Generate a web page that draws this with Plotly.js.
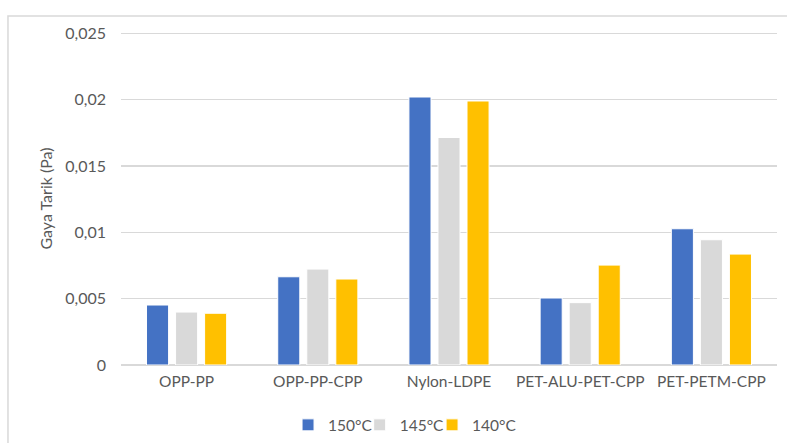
<!DOCTYPE html>
<html>
<head>
<meta charset="utf-8">
<script src="https://cdn.plot.ly/plotly-3.0.1.min.js"></script>
<style>
html,body{margin:0;padding:0;background:#fff;}
#chart{width:787px;height:443px;}
</style>
</head>
<body>
<div id="chart"></div>
<script>
const categories = ["OPP-PP", "OPP-PP-CPP", "Nylon-LDPE", "PET-ALU-PET-CPP", "PET-PETM-CPP"];
const seriesNames = ["150\u00B0C", "145\u00B0C", "140\u00B0C"];
const values150 = [0.00452, 0.00665, 0.0202, 0.00505, 0.01027];
const values145 = [0.00399, 0.00723, 0.01715, 0.0047, 0.00944];
const values140 = [0.0039, 0.00648, 0.0199, 0.00753, 0.00836];
const colors = ["#4472C4", "#D9D9D9", "#FFC000"];
const yTickVals = [0, 0.005, 0.01, 0.015, 0.02, 0.025];
const yTickText = ["0", "0,005", "0,01", "0,015", "0,02", "0,025"];

const allValues = [values150, values145, values140];
const legendIds = ["legend", "legend2", "legend3"];
const traces = allValues.map((v, i) => ({
  type: "bar",
  name: seriesNames[i],
  x: categories,
  y: v,
  legend: legendIds[i],
  marker: {color: colors[i], line: {color: "#ffffff", width: 1}},
  hoverinfo: "x+y"
}));

const font = "Lato, Open Sans, sans-serif";
const legendBase = {
  orientation: "h",
  xref: "container",
  yref: "container",
  xanchor: "left",
  y: 0.04,
  yanchor: "middle",
  font: {size: 15.5, color: "#595959"},
  itemwidth: 30,
  bgcolor: "rgba(0,0,0,0)"
};
const legendLefts = [0.366, 0.457, 0.549];

const layout = {
  width: 787,
  height: 443,
  margin: {l: 121, r: 10, t: 31.7, b: 78, autoexpand: false},
  paper_bgcolor: "#ffffff",
  plot_bgcolor: "#ffffff",
  separators: ",.",
  barmode: "group",
  bargap: 0.336,
  bargroupgap: 0.24,
  font: {family: font, color: "#595959", size: 16},
  xaxis: {
    type: "category",
    showgrid: false,
    showline: false,
    zeroline: false,
    ticks: "",
    tickfont: {size: 15.5, color: "#595959"},
    ticklabelstandoff: 5
  },
  yaxis: {
    range: [0, 0.0251],
    tickvals: yTickVals,
    ticktext: yTickText,
    showgrid: true,
    gridcolor: "#D9D9D9",
    gridwidth: 1.5,
    zeroline: true,
    zerolinecolor: "#D9D9D9",
    zerolinewidth: 1.5,
    showline: false,
    ticks: "",
    tickfont: {size: 16, color: "#595959"},
    ticklabelstandoff: 14,
    title: {text: "Gaya Tarik (Pa)", font: {size: 16, color: "#595959"}, standoff: 8}
  },
  showlegend: true,
  legend: Object.assign({}, legendBase, {x: legendLefts[0]}),
  legend2: Object.assign({}, legendBase, {x: legendLefts[1]}),
  legend3: Object.assign({}, legendBase, {x: legendLefts[2]}),
  shapes: [{
    type: "rect",
    xref: "paper",
    yref: "paper",
    x0: -0.1723,
    x1: 1.05,
    y0: -0.3,
    y1: 1.048,
    line: {color: "#D9D9D9", width: 1.5},
    fillcolor: "rgba(0,0,0,0)",
    layer: "below"
  }]
};

Plotly.newPlot("chart", traces, layout, {displayModeBar: false, staticPlot: true});
</script>
</body>
</html>
